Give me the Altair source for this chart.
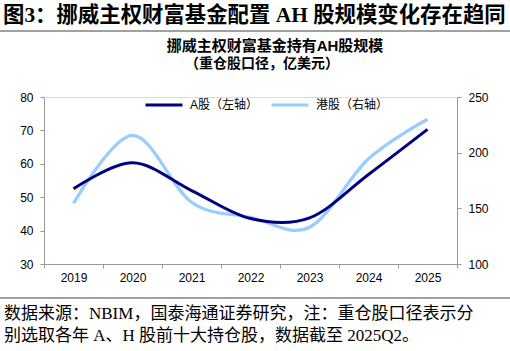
import altair as alt
import pandas as pd

years = ["2019", "2020", "2021", "2022", "2023", "2024", "2025"]
a_vals = [52.5, 60.3, 52.0, 43.6, 43.8, 56.8, 70.3]
h_vals = [154.5, 215.5, 155.5, 142.0, 133.0, 194.5, 230.0]
series = ["A股（左轴）", "港股（右轴）"]
colors = ["#000080", "#99CCFF"]

header = "图3：挪威主权财富基金配置 AH 股规模变化存在趋同"
sub1 = "挪威主权财富基金持有AH股规模"
sub2 = "（重仓股口径，亿美元）"
src1 = "数据来源：NBIM，国泰海通证券研究，注：重仓股口径表示分"
src2 = "别选取各年 A、H 股前十大持仓股，数据截至 2025Q2。"

df = pd.DataFrame({"year": years, "A": a_vals, "H": h_vals})

L, T = 44, 97
W, H = 413, 167

sans = "Liberation Sans, Noto Sans CJK SC"
serif = "Liberation Serif, Noto Sans CJK SC"

x_enc = alt.X(
    "year:O",
    title=None,
    scale=alt.Scale(type="band", paddingInner=0, paddingOuter=0),
    bandPosition=0.5,
    axis=alt.Axis(
        tickBand="extent", labelAngle=0, tickSize=4, labelPadding=4,
        domainColor="#999999", tickColor="#999999", labelFont=sans,
        labelFontSize=12, labelColor="#000000", grid=False,
    ),
)

color_enc = alt.Color(
    "s:N",
    scale=alt.Scale(domain=series, range=colors),
    legend=alt.Legend(
        title=None, orient="none", legendX=100, legendY=-12,
        direction="horizontal", symbolType="stroke", symbolSize=1369,
        symbolStrokeWidth=3, labelFont=sans, labelFontSize=12,
        labelOffset=6, columnPadding=6, padding=0,
        labelColor="#000000",
    ),
)

base = alt.Chart(df)

line_a = base.transform_calculate(s="'%s'" % series[0]).mark_line(
    interpolate="cardinal", strokeWidth=3
).encode(
    x=x_enc,
    y=alt.Y(
        "A:Q", title=None,
        scale=alt.Scale(domain=[30, 80], nice=False, zero=False),
        axis=alt.Axis(
            values=[30, 40, 50, 60, 70, 80], orient="left", tickSize=4,
            labelPadding=7, domainColor="#999999", tickColor="#999999",
            labelFont=sans, labelFontSize=12, labelColor="#000000", grid=False,
        ),
    ),
    color=color_enc,
)

line_h = base.transform_calculate(s="'%s'" % series[1]).mark_line(
    interpolate="cardinal", strokeWidth=3.2
).encode(
    x=x_enc,
    y=alt.Y(
        "H:Q", title=None,
        scale=alt.Scale(domain=[100, 250], nice=False, zero=False),
        axis=alt.Axis(
            values=[100, 150, 200, 250], orient="right", tickSize=4,
            labelPadding=7, domainColor="#999999", tickColor="#999999",
            labelFont=sans, labelFontSize=12, labelColor="#000000", grid=False,
        ),
    ),
    color=color_enc,
)

lines = alt.layer(line_h, line_a).resolve_scale(y="independent")


def txt(text, px, py, size, weight="normal", align="left", font=serif):
    return alt.Chart(pd.DataFrame({"t": [text]})).mark_text(
        align=align, baseline="middle", fontSize=size, fontWeight=weight,
        font=font, color="#000000",
    ).encode(text="t:N", x=alt.value(px - L), y=alt.value(py - T))


def hline(py, color="#808080", w=1.5):
    return alt.Chart(pd.DataFrame({"k": [0]})).mark_rule(
        color=color, strokeWidth=w
    ).encode(x=alt.value(-L), x2=alt.value(510 - L), y=alt.value(py - T))


chart = alt.layer(
    lines,
    txt(header, 3, 16, 21.4, "bold"),
    hline(31),
    txt(sub1, 275, 46, 15, "bold", "center", sans),
    txt(sub2, 262, 64, 14, "bold", "center", sans),
    hline(298),
    txt(src1, 4, 314, 17, "normal", "left", serif),
    txt(src2, 4, 336, 17, "normal", "left", serif),
).properties(
    width=W, height=H,
    autosize=alt.AutoSizeParams(type="none"),
    padding={"left": L, "top": T, "right": 510 - L - W, "bottom": 351 - T - H},
).configure_view(stroke=None).configure(background="#ffffff")

chart.save("out.html", embed_options={"renderer": "svg", "actions": False})
